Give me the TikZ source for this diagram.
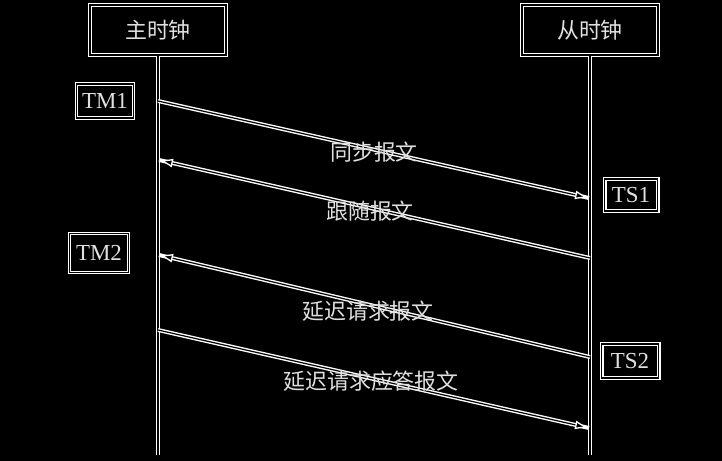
\documentclass[tikz,border=0pt]{standalone}
\usepackage{fontspec}
\setmainfont{Liberation Serif}
\newfontfamily\cjk{Noto Sans CJK SC}
\usetikzlibrary{arrows.meta}
\tikzset{
  halo/.style={draw=black, line width=1.2pt, preaction={draw=white, line width=4pt}},
  box/.style={halo, rectangle, inner sep=0pt},
  msg/.style={draw=black, line width=1.2pt,
    -{Latex[length=14pt,width=9pt,color=white,fill=black,line width=1.3pt]},
    preaction={draw=white, line width=4pt, arrows=-}},
  cjklab/.style={font=\cjk\fontsize{22}{26}\selectfont, inner sep=0pt, text=white!88!black},
  tlab/.style={font=\fontsize{23}{26}\selectfont, inner sep=0pt, text=white!88!black},
}
\begin{document}
\begin{tikzpicture}[x=1bp,y=-1bp]
\fill[black] (0,0) rectangle (722,461);
\useasboundingbox (0,0) rectangle (722,461);

% clock boxes
\node[box, minimum width=136bp, minimum height=50bp, cjklab] (master) at (158,30) {主时钟};
\node[box, minimum width=136bp, minimum height=50bp, cjklab] (slave) at (590,30) {从时钟};

% lifeline ends
\coordinate (mend) at (158,455);
\coordinate (send) at (590,455);
\draw[halo] (master.south) -- (mend);
\draw[halo] (slave.south) -- (send);

% timestamp boxes
\node[box, minimum width=57bp, minimum height=34bp, tlab] (tm1) at (105,101) {TM1};
\node[box, minimum width=53bp, minimum height=32bp, tlab] (ts1) at (631,195) {TS1};
\node[box, minimum width=59bp, minimum height=39bp, tlab] (tm2) at (99,253) {TM2};
\node[box, minimum width=57bp, minimum height=34bp, tlab] (ts2) at (630,361) {TS2};

% message end points
\coordinate (m1) at (158,101);
\coordinate (s1) at (589,198);
\coordinate (m2) at (159,160);
\coordinate (s2) at (590,258);
\coordinate (m3) at (159,255);
\coordinate (s3) at (590,357);
\coordinate (m4) at (158,330);
\coordinate (s4) at (589,428);

\draw[msg] (m1) -- (s1);
\draw[msg] (s2) -- (m2);
\draw[msg] (s3) -- (m3);
\draw[msg] (m4) -- (s4);

% labels
\node[cjklab] (l1) at (374,152) {同步报文};
\node[cjklab] (l2) at (370,211) {跟随报文};
\node[cjklab] (l3) at (368,311) {延迟请求报文};
\node[cjklab] (l4) at (371,381) {延迟请求应答报文};
\end{tikzpicture}
\end{document}
